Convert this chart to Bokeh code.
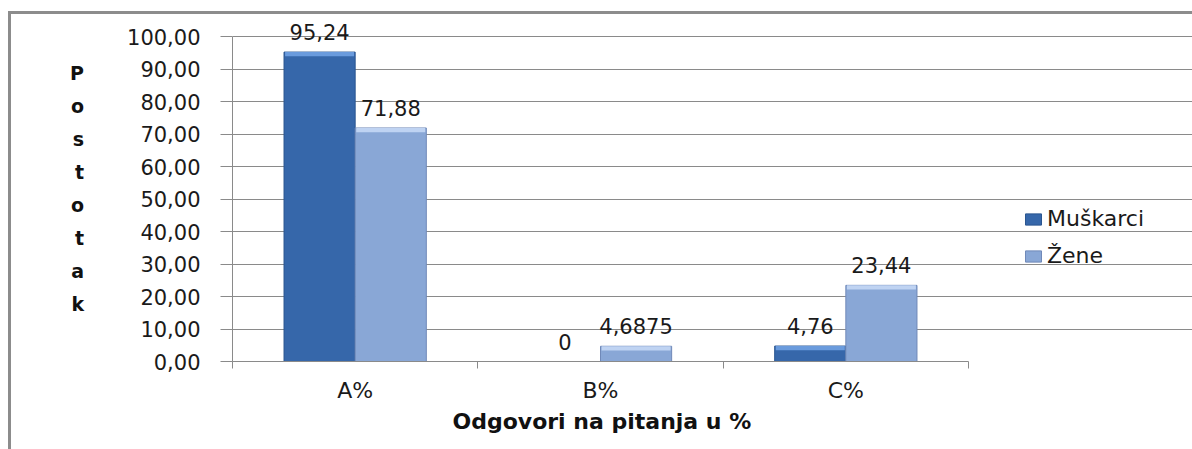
from bokeh.plotting import figure
from bokeh.models import (ColumnDataSource, Range1d, FixedTicker, LabelSet,
                          Legend, LegendItem, Title)
from bokeh.core.properties import value
from bokeh.embed import file_html
from bokeh.resources import INLINE

categories = ["A%", "B%", "C%"]
muskarci = [95.24, 0.0, 4.76]
zene = [71.88, 4.6875, 23.44]
muskarci_labels = ["95,24", "0", "4,76"]
zene_labels = ["71,88", "4,6875", "23,44"]
y_ticks = [0, 10, 20, 30, 40, 50, 60, 70, 80, 90, 100]
y_tick_labels = ["0,00", "10,00", "20,00", "30,00", "40,00", "50,00",
                 "60,00", "70,00", "80,00", "90,00", "100,00"]
series_names = ["Muškarci", "Žene"]
y_title = "Postotak"
x_title = "Odgovori na pitanja u %"

FONT = "DejaVu Sans"
BW = 0.29
BEVEL = 1.3
NCAT = len(categories)

centers = [i + 0.5 for i in range(NCAT)]
xm = [c - BW / 2 for c in centers]
xz = [c + BW / 2 for c in centers]

src_m = ColumnDataSource(dict(x=xm, top=muskarci, lab=muskarci_labels,
                              bb=[max(v - BEVEL, 0) if v > 0 else 0 for v in muskarci]))
src_z = ColumnDataSource(dict(x=xz, top=zene, lab=zene_labels,
                              bb=[max(v - BEVEL, 0) if v > 0 else 0 for v in zene]))

# the frame runs to the right edge so the legend (inside it) is not clipped;
# axis line and grid lines are bounded to the category area
p = figure(width=1192, height=449, output_backend="svg", toolbar_location=None,
           x_range=Range1d(0, NCAT * 960 / 736), y_range=Range1d(0, 106.5),
           min_border_left=232, min_border_right=0, min_border_top=15,
           min_border_bottom=88)
p.outline_line_color = None
p.background_fill_color = "white"
p.border_fill_alpha = 0
p.styles = {
    "background": ("linear-gradient(#8c8c8c,#8c8c8c) 8px 11px / 100% 3px no-repeat, "
                   "linear-gradient(#8c8c8c,#8c8c8c) 8px 11px / 3px 100% no-repeat, "
                   "white"),
}

# bars
rm = p.vbar(x="x", top="top", bottom=0, width=BW, source=src_m,
            fill_color="#3667AA", line_color="#2B5690", line_width=1)
rz = p.vbar(x="x", top="top", bottom=0, width=BW, source=src_z,
            fill_color="#89A7D6", line_color="#7089B8", line_width=1)
# top bevel highlights
p.vbar(x="x", top="top", bottom="bb", width=BW * 0.97, source=src_m,
       fill_color="#6A9BDD", line_color=None)
p.vbar(x="x", top="top", bottom="bb", width=BW * 0.97, source=src_z,
       fill_color="#BFD3F2", line_color=None)

# data labels
for s in (src_m, src_z):
    p.add_layout(LabelSet(x="x", y="top", text="lab", source=s, y_offset=12,
                          text_align="center", text_baseline="bottom",
                          text_font=value(FONT), text_font_size="21px",
                          text_color="#1a1a1a"))

# y axis
p.yaxis.ticker = FixedTicker(ticks=y_ticks)
p.yaxis.bounds = (0, 100)
p.yaxis.major_label_overrides = {t: l for t, l in zip(y_ticks, y_tick_labels)}
p.yaxis.major_label_text_font = FONT
p.yaxis.major_label_text_font_size = "21px"
p.yaxis.major_label_text_color = "#1a1a1a"
p.yaxis.major_tick_out = 12
p.yaxis.major_tick_in = 0
p.yaxis.minor_tick_out = 0
p.yaxis.major_label_standoff = 20
p.yaxis.axis_line_color = "#8a8a8a"
p.yaxis.major_tick_line_color = "#8a8a8a"
p.yaxis.axis_label = "\n".join(y_title)
p.yaxis.axis_label_orientation = "horizontal"
p.yaxis.axis_label_text_align = "center"
p.yaxis.axis_label_text_font = FONT
p.yaxis.axis_label_text_font_size = "19px"
p.yaxis.axis_label_text_font_style = "bold"
p.yaxis.axis_label_text_color = "#111111"
p.yaxis.axis_label_text_line_height = 1.5
p.yaxis.axis_label_standoff = 40
p.ygrid.grid_line_color = "#8a8a8a"
p.ygrid.ticker = FixedTicker(ticks=y_ticks)
p.ygrid.bounds = (0, NCAT)

# x axis: labels at centers, tick marks at category boundaries
p.xaxis.ticker = FixedTicker(ticks=centers, minor_ticks=list(range(NCAT + 1)))
p.xaxis.bounds = (0, NCAT)
p.xaxis.major_label_overrides = {c: l for c, l in zip(centers, categories)}
p.xaxis.major_tick_out = 0
p.xaxis.major_tick_in = 0
p.xaxis.minor_tick_out = 7
p.xaxis.minor_tick_in = 0
p.xaxis.minor_tick_line_color = "#8a8a8a"
p.xaxis.axis_line_color = "#8a8a8a"
p.xaxis.major_label_text_font = FONT
p.xaxis.major_label_text_font_size = "22px"
p.xaxis.major_label_text_color = "#1a1a1a"
p.xaxis.major_label_standoff = 9
p.xgrid.grid_line_color = None

# x-axis title, centred under the category area
p.add_layout(Title(text=x_title, align="left", offset=220, standoff=2,
                   text_font=FONT, text_font_size="22px",
                   text_font_style="bold", text_color="#111111"), "below")

# legend
legend = Legend(items=[LegendItem(label=series_names[0], renderers=[rm]),
                       LegendItem(label=series_names[1], renderers=[rz])],
                location=(791, 93), orientation="vertical",
                glyph_width=20, glyph_height=14, label_standoff=4,
                spacing=12, padding=0, margin=0,
                border_line_color=None, background_fill_alpha=0,
                label_text_font=FONT, label_text_font_size="22px",
                label_text_color="#1a1a1a")
p.add_layout(legend, "center")

open("out.html", "w").write(file_html(p, INLINE))
